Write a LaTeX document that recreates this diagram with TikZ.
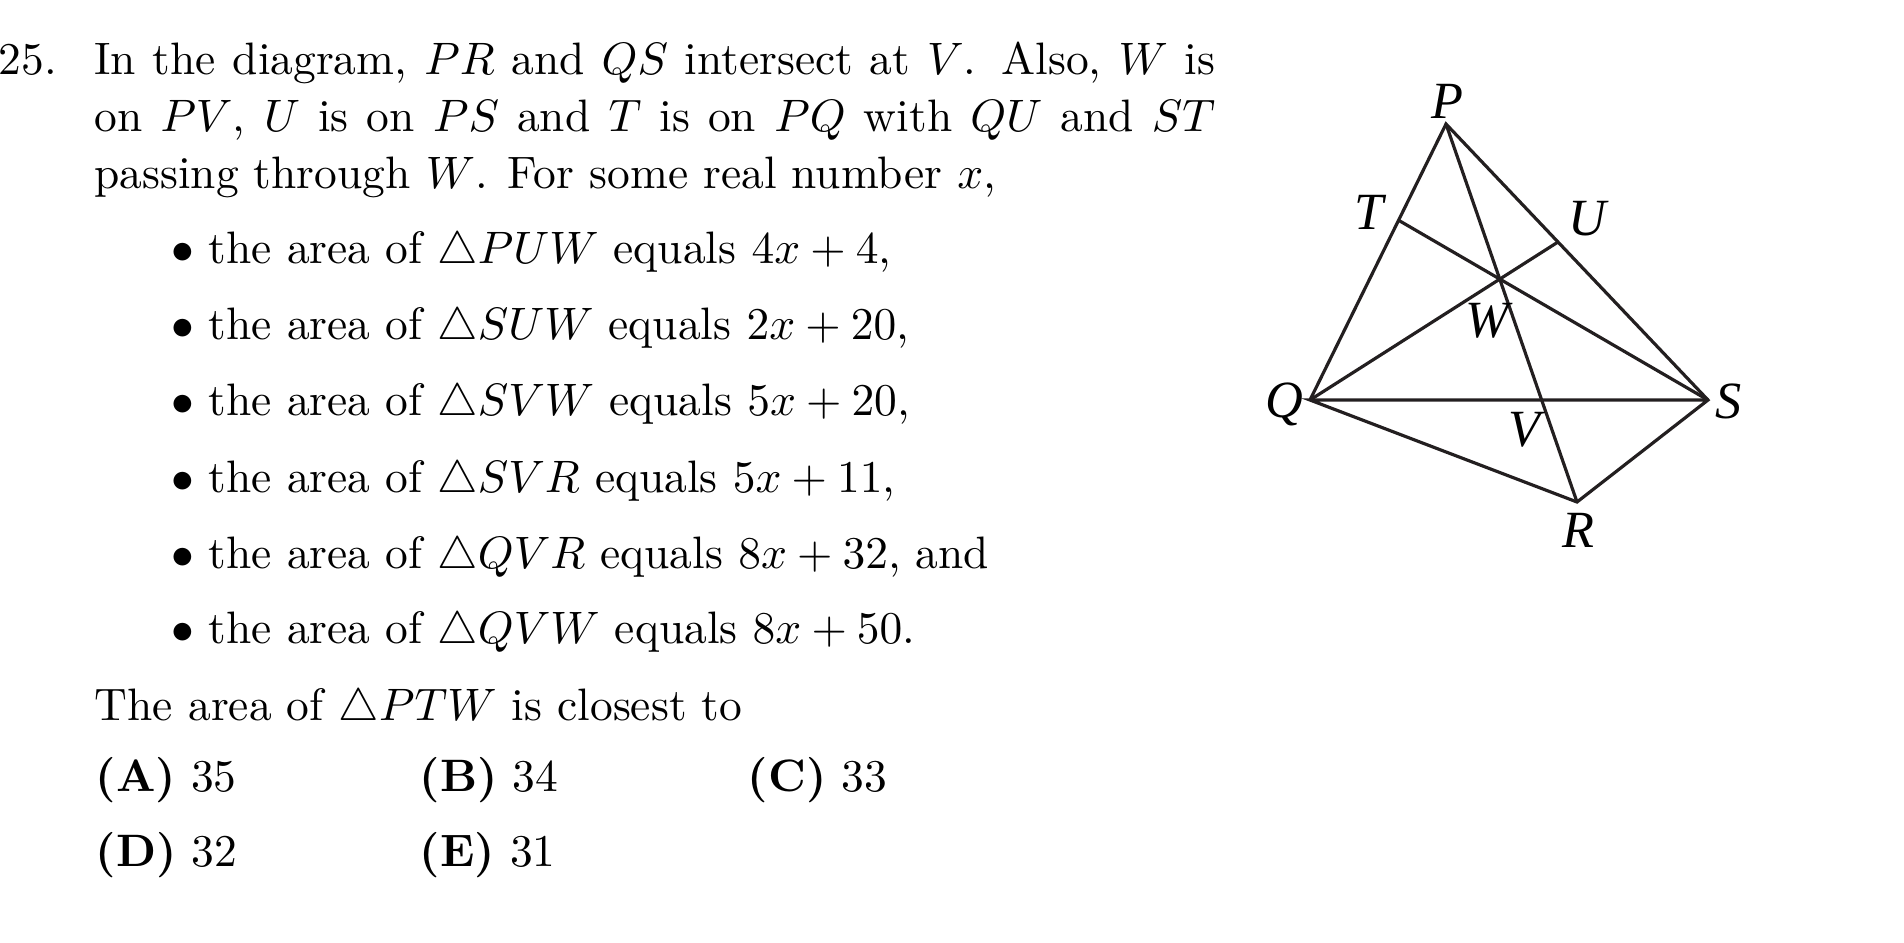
\documentclass[tikz,border=0pt]{standalone}
\usepackage{fontspec}
\usetikzlibrary{calc}
\newfontfamily\lblfont{Liberation Serif}[UprightFont={* Italic}]
\definecolor{ink}{HTML}{231F20}
\begin{document}
\begin{tikzpicture}[x=0.2200pt,y=-0.2200pt,
  txt/.style={inner sep=0pt,anchor=base west,font=\fontsize{10}{12}\selectfont},
  lbl/.style={inner sep=0pt,anchor=center,font=\fontsize{11.5}{13}\selectfont\lblfont},
  edge/.style={draw=ink,line width=0.7pt,line join=miter}]
\useasboundingbox (0,0) rectangle (1904,942);
% ---------- text ----------
\node[txt] (num) at (-2,74) {25.};
\node[txt] (l1) at (93.5,74) {\makebox[246.6pt][s]{In the diagram, $PR$ and $QS$ intersect at $V$. Also, $W$ is}};
\node[txt] (l2) at (93.5,131) {\makebox[246.6pt][s]{on $PV$, $U$ is on $PS$ and $T$ is on $PQ$ with $QU$ and $ST$}};
\node[txt] (l3) at (93.5,188) {passing through $W$. For some real number $x$,};
\foreach \yy/\tt [count=\i] in {263/{the area of $\triangle PUW$ equals $4x+4$,},
  339/{the area of $\triangle SUW$ equals $2x+20$,},
  415/{the area of $\triangle SVW$ equals $5x+20$,},
  492/{the area of $\triangle SVR$ equals $5x+11$,},
  568/{the area of $\triangle QVR$ equals $8x+32$, and},
  643/{the area of $\triangle QVW$ equals $8x+50$.}}{
  \node[txt] (b\i) at (170.5,\yy) {$\bullet$};
  \node[txt] (it\i) at (208,\yy) {\tt};
}
\node[txt] (q) at (94,720) {The area of $\triangle PTW$ is closest to};
\node[txt] (cA) at (95,791) {\textbf{(A)} 35};
\node[txt] (cB) at (419,791) {\textbf{(B)} 34};
\node[txt] (cC) at (747,791) {\textbf{(C)} 33};
\node[txt] (cD) at (95,866) {\textbf{(D)} 32};
\node[txt] (cE) at (419,866) {\textbf{(E)} 31};
% ---------- diagram ----------
\coordinate (P) at (1446,124);
\coordinate (Q) at (1310,400);
\coordinate (S) at (1708,400);
\coordinate (R) at (1577,502);
\coordinate (U) at ($(P)!0.4275!(S)$);
\coordinate (W) at (intersection of P--R and Q--U);
\coordinate (T) at (intersection of S--W and P--Q);
\coordinate (V) at (intersection of P--R and Q--S);
\draw[edge] (Q) -- (P) -- (S) -- (R) -- (Q) -- (S);
\draw[edge] (P) -- (R);
\draw[edge] (Q) -- (U);
\draw[edge] (S) -- (T);
\node[lbl] (lP) at (1447,101) {P};
\node[lbl] (lQ) at (1284,404) {Q};
\node[lbl] (lS) at (1729,401) {S};
\node[lbl] (lR) at (1578,530) {R};
\node[lbl] (lT) at (1369,212) {T};
\node[lbl] (lU) at (1587,219) {U};
\node[lbl] (lW) at (1487,321) {W};
\node[lbl] (lV) at (1524,430) {V};
\end{tikzpicture}
\end{document}
